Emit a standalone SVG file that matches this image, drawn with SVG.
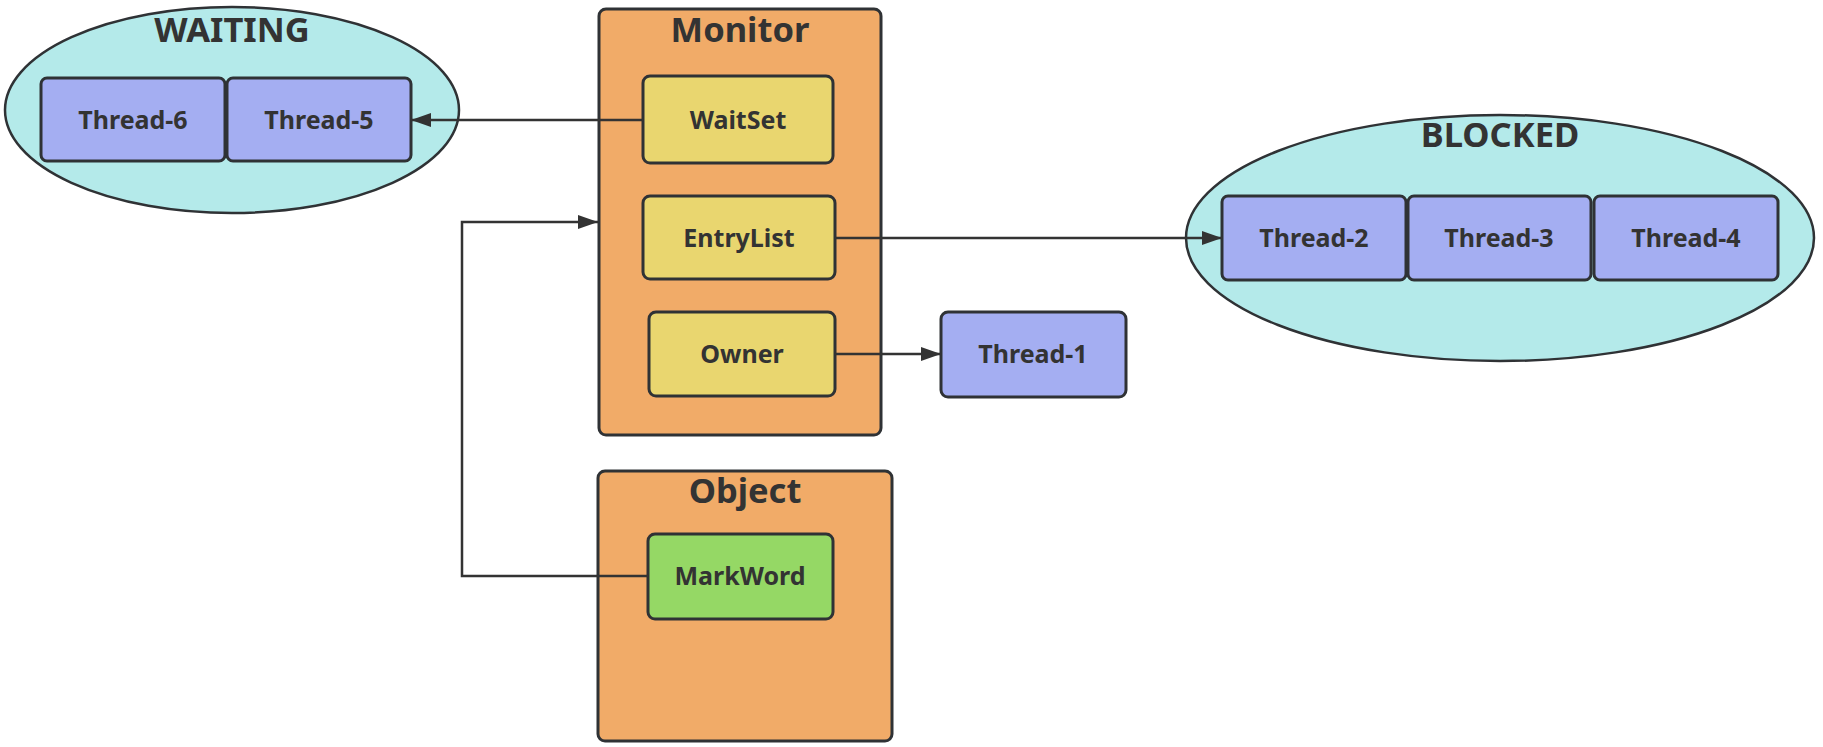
<svg xmlns="http://www.w3.org/2000/svg" width="1823" height="747" viewBox="0 0 1823 747">
  <style>
    .bg { fill: #ffffff; }
    .state { fill: #b4eaea; stroke: #2f3235; stroke-width: 2.5; }
    .container { fill: #f1ab68; stroke: #2f3235; stroke-width: 3; }
    .field { fill: #e9d66f; stroke: #2f3235; stroke-width: 3; }
    .mark { fill: #95d865; stroke: #2f3235; stroke-width: 3; }
    .thread { fill: #a4aef2; stroke: #2f3235; stroke-width: 3; }
    .title { font-family: "Noto Sans", "Open Sans", sans-serif; font-weight: 700; font-size: 34.5px; fill: #333333; text-anchor: middle; }
    .label { font-family: "Noto Sans", "Open Sans", sans-serif; font-weight: 700; font-size: 25px; fill: #333333; text-anchor: middle; }
    .link { fill: none; stroke: #333333; stroke-width: 2.5; }
  </style>
  <defs>
    <marker id="arrow" viewBox="0 0 20 14" refX="20" refY="7" markerWidth="20" markerHeight="14" markerUnits="userSpaceOnUse" orient="auto">
      <path d="M0,0 L20,7 L0,14 Z" fill="#333333"/>
    </marker>
  </defs>

  <rect class="bg" x="0" y="0" width="1823" height="747"/>

  <!-- WAITING set of threads -->
  <g id="waiting">
    <ellipse class="state" cx="232" cy="110" rx="227" ry="103"/>
    <text class="title" x="232" y="42">WAITING</text>
  </g>
  <g id="thread-6">
    <rect class="thread" x="41" y="78" width="184" height="83" rx="6"/>
    <text class="label" x="133" y="129">Thread-6</text>
  </g>
  <g id="thread-5">
    <rect class="thread" x="227" y="78" width="184" height="83" rx="6"/>
    <text class="label" x="319" y="129">Thread-5</text>
  </g>

  <!-- Monitor with its three fields -->
  <g id="monitor">
    <rect class="container" x="599" y="9" width="282" height="426" rx="7"/>
    <text class="title" x="740" y="42">Monitor</text>
  </g>
  <g id="waitset">
    <rect class="field" x="643" y="76" width="190" height="87" rx="7"/>
    <text class="label" x="738" y="129">WaitSet</text>
  </g>
  <g id="entrylist">
    <rect class="field" x="643" y="196" width="192" height="83" rx="7"/>
    <text class="label" x="739" y="247">EntryList</text>
  </g>
  <g id="owner">
    <rect class="field" x="649" y="312" width="186" height="84" rx="7"/>
    <text class="label" x="742" y="363">Owner</text>
  </g>

  <!-- Object header -->
  <g id="object">
    <rect class="container" x="598" y="471" width="294" height="270" rx="7"/>
    <text class="title" x="745" y="503">Object</text>
  </g>
  <g id="markword">
    <rect class="mark" x="648" y="534" width="185" height="85" rx="7"/>
    <text class="label" x="740" y="585">MarkWord</text>
  </g>

  <!-- Running owner thread -->
  <g id="thread-1">
    <rect class="thread" x="941" y="312" width="185" height="85" rx="7"/>
    <text class="label" x="1033" y="363">Thread-1</text>
  </g>

  <!-- BLOCKED set of threads -->
  <g id="blocked">
    <ellipse class="state" cx="1500" cy="238" rx="314" ry="123"/>
    <text class="title" x="1500" y="147">BLOCKED</text>
  </g>
  <g id="thread-2">
    <rect class="thread" x="1222" y="196" width="184" height="84" rx="6"/>
    <text class="label" x="1314" y="247">Thread-2</text>
  </g>
  <g id="thread-3">
    <rect class="thread" x="1408" y="196" width="183" height="84" rx="6"/>
    <text class="label" x="1499" y="247">Thread-3</text>
  </g>
  <g id="thread-4">
    <rect class="thread" x="1594" y="196" width="184" height="84" rx="6"/>
    <text class="label" x="1686" y="247">Thread-4</text>
  </g>

  <!-- Connectors -->
  <g id="connectors">
    <path class="link" d="M643,120 L411,120" marker-end="url(#arrow)"/>
    <path class="link" d="M835,238 L1222,238" marker-end="url(#arrow)"/>
    <path class="link" d="M835,354 L941,354" marker-end="url(#arrow)"/>
    <path class="link" d="M648,576 L462,576 L462,222 L598,222" marker-end="url(#arrow)"/>
  </g>
</svg>
